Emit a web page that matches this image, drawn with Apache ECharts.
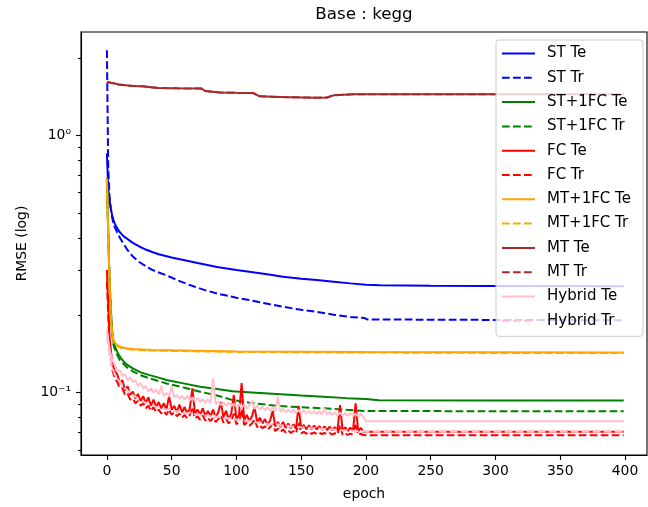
<!DOCTYPE html>
<html><head><meta charset="utf-8">
<script src="https://cdn.jsdelivr.net/npm/echarts@6/dist/echarts.min.js"></script>
<style>html,body{margin:0;padding:0;background:#fff}#c{width:648px;height:507px}</style>
</head><body><div id="c"></div>
<script>
// ---------- data ----------
const title = 'Base : kegg';
const xLabel = 'epoch';
const yLabel = 'RMSE (log)';
const xTicks = [0, 50, 100, 150, 200, 250, 300, 350, 400];
const yMajorTicks = [0.1, 1];
const yMinorTicks = [0.06, 0.07, 0.08, 0.09, 0.2, 0.3, 0.4, 0.5, 0.6, 0.7, 0.8, 0.9, 2];

const seriesNames = ['ST Te','ST Tr','ST+1FC Te','ST+1FC Tr','FC Te','FC Tr','MT+1FC Te','MT+1FC Tr','MT Te','MT Tr','Hybrid Te','Hybrid Tr'];

// smooth curves: [epoch, value]
const stTe = [[0,0.851],[1,0.62],[2,0.56],[3,0.52],[4,0.49],[5,0.47],[6,0.455],[8,0.435],[10,0.42],[13,0.405],[16,0.395],[20,0.382],[25,0.37],[30,0.36],[35,0.352],[40,0.345],[50,0.335],[60,0.327],[70,0.319],[85,0.308],[100,0.3],[110,0.295],[125,0.288],[136,0.282],[150,0.277],[162,0.274],[175,0.27],[188,0.266],[200,0.2625],[211,0.2615],[250,0.2605],[300,0.26],[350,0.2598],[399,0.2595]];
const stTr = [[0,2.14],[1,0.75],[2,0.58],[3,0.52],[4,0.48],[5,0.455],[6,0.44],[8,0.42],[10,0.4],[13,0.378],[16,0.358],[20,0.338],[25,0.322],[30,0.31],[35,0.3],[40,0.293],[46,0.286],[55,0.273],[64,0.262],[75,0.251],[85,0.243],[100,0.234],[110,0.229],[125,0.221],[136,0.2157],[150,0.21],[162,0.206],[175,0.201],[188,0.197],[199,0.195],[201,0.1927],[250,0.1922],[300,0.1918],[350,0.1915],[399,0.1914]];
const st1fcTe = [[0,0.68],[1,0.42],[2,0.28],[3,0.21],[4,0.175],[5,0.158],[6,0.152],[8,0.144],[10,0.138],[13,0.132],[16,0.128],[20,0.1243],[26,0.12],[33,0.1171],[40,0.1145],[46,0.112],[60,0.1085],[72,0.1055],[85,0.1033],[97,0.1013],[115,0.1],[131,0.0989],[150,0.0976],[167,0.0965],[185,0.0953],[200,0.0945],[210,0.0935],[300,0.0933],[399,0.0932]];
const st1fcTr = [[0,0.68],[1,0.42],[2,0.28],[3,0.21],[4,0.172],[5,0.154],[6,0.148],[8,0.14],[10,0.134],[15,0.126],[20,0.121],[26,0.117],[33,0.1137],[40,0.111],[46,0.1087],[60,0.1045],[72,0.1009],[85,0.0975],[96,0.094],[110,0.0915],[131,0.089],[150,0.0878],[167,0.087],[185,0.0858],[200,0.0849],[300,0.0848],[399,0.0847]];
const mt1fcTe = [[0,0.68],[1,0.42],[2,0.27],[3,0.2],[4,0.172],[5,0.162],[6,0.157],[8,0.153],[10,0.151],[15,0.149],[20,0.148],[35,0.1465],[70,0.1455],[100,0.1446],[150,0.1443],[200,0.144],[300,0.1436],[399,0.1434]];
const mt1fcTr = [[0,0.66],[1,0.41],[2,0.265],[3,0.198],[4,0.17],[5,0.16],[6,0.155],[8,0.152],[10,0.15],[15,0.148],[20,0.147],[35,0.1458],[70,0.1448],[100,0.1441],[150,0.1437],[200,0.1433],[300,0.1428],[399,0.1426]];
const mtTe = [[0,1.61],[3,1.6],[7,1.587],[9,1.575],[10,1.563],[20,1.556],[27,1.55],[28,1.532],[40,1.528],[54,1.522],[73,1.52],[76,1.486],[87,1.468],[100,1.462],[113,1.459],[118,1.417],[134,1.408],[150,1.404],[162,1.401],[170,1.403],[175,1.43],[190,1.443],[250,1.443],[399,1.443]];
const mtTr = [[0,1.61],[3,1.6],[7,1.587],[9,1.575],[10,1.563],[20,1.556],[27,1.55],[28,1.532],[40,1.528],[54,1.522],[73,1.52],[76,1.486],[87,1.468],[100,1.462],[113,1.459],[118,1.417],[134,1.408],[150,1.404],[162,1.401],[170,1.403],[175,1.43],[190,1.443],[250,1.443],[399,1.443]];

// noisy curves: one value every 2 epochs from 0 to 198, then a flat tail
const fcTe = [0.300,0.165,0.132,0.121,0.118,0.109,0.112,0.102,0.106,0.098,
  0.101,0.095,0.099,0.093,0.097,0.091,0.096,0.089,0.094,0.088,
  0.092,0.087,0.091,0.086,0.097,0.086,0.089,0.084,0.090,0.084,
  0.088,0.083,0.087,0.104,0.083,0.086,0.082,0.087,0.081,0.085,
  0.081,0.086,0.080,0.084,0.092,0.080,0.085,0.079,0.083,0.098,
  0.079,0.082,0.109,0.078,0.082,0.0775,0.081,0.088,0.0765,0.080,
  0.0758,0.079,0.075,0.078,0.085,0.074,0.077,0.0735,0.077,0.073,
  0.076,0.0728,0.0755,0.0725,0.089,0.0725,0.075,0.0722,0.0748,0.072,
  0.0745,0.072,0.0742,0.0718,0.074,0.0716,0.0738,0.0714,0.0736,0.0713,
  0.0895,0.0712,0.0734,0.071,0.0732,0.0709,0.091,0.0708,0.073,0.0706];
const fcTeTail = 0.0706;
const fcTr = [0.270,0.150,0.124,0.114,0.110,0.104,0.104,0.098,0.099,0.094,
  0.095,0.091,0.093,0.089,0.091,0.087,0.089,0.085,0.088,0.084,
  0.086,0.083,0.085,0.082,0.086,0.082,0.084,0.081,0.083,0.080,
  0.082,0.0795,0.082,0.088,0.0795,0.081,0.0785,0.0815,0.078,0.080,
  0.0775,0.080,0.077,0.079,0.0815,0.0765,0.079,0.076,0.078,0.083,
  0.0755,0.077,0.086,0.075,0.0765,0.0745,0.076,0.079,0.0735,0.075,
  0.0728,0.074,0.072,0.0735,0.0755,0.071,0.0725,0.0705,0.072,0.070,
  0.0715,0.0698,0.071,0.0696,0.077,0.0695,0.0705,0.0694,0.0704,0.0692,
  0.0702,0.0691,0.070,0.069,0.0698,0.0689,0.0697,0.0688,0.0696,0.0688,
  0.075,0.0687,0.0695,0.0686,0.0694,0.0686,0.076,0.0685,0.0693,0.0685];
const fcTrTail = 0.0684;
const hyTe = [0.175,0.148,0.134,0.129,0.122,0.122,0.116,0.118,0.112,0.115,
  0.110,0.112,0.106,0.109,0.104,0.106,0.101,0.104,0.100,0.103,
  0.0985,0.106,0.097,0.100,0.0965,0.106,0.096,0.098,0.0945,0.0975,
  0.094,0.097,0.0935,0.096,0.093,0.0955,0.092,0.0945,0.0915,0.094,
  0.091,0.1135,0.090,0.0925,0.0895,0.092,0.089,0.0915,0.0885,0.091,
  0.088,0.0905,0.0875,0.090,0.087,0.0895,0.093,0.0865,0.089,0.086,
  0.0885,0.0855,0.088,0.085,0.0875,0.0845,0.097,0.0843,0.0865,0.084,
  0.0862,0.0838,0.086,0.0835,0.0857,0.0832,0.0855,0.083,0.0852,0.0828,
  0.085,0.0825,0.0848,0.0822,0.087,0.082,0.0842,0.0818,0.084,0.0815,
  0.0838,0.0813,0.0835,0.0812,0.0833,0.081,0.0832,0.0808,0.083,0.0807];
const hyTeTail = 0.0775;
const hyTr = [0.165,0.140,0.126,0.118,0.113,0.110,0.107,0.104,0.102,0.100,
  0.098,0.0965,0.095,0.094,0.0925,0.0915,0.0905,0.0895,0.089,0.088,
  0.0875,0.087,0.0865,0.086,0.0865,0.0855,0.085,0.0845,0.0848,0.084,
  0.0835,0.0832,0.0838,0.083,0.0825,0.0828,0.082,0.0823,0.0815,0.0818,
  0.081,0.0825,0.0805,0.0808,0.080,0.0803,0.0795,0.0798,0.079,0.0795,
  0.0785,0.0788,0.078,0.0783,0.0775,0.0778,0.077,0.0773,0.0765,0.0768,
  0.076,0.0762,0.0755,0.0758,0.075,0.0752,0.0755,0.0745,0.0748,0.0742,
  0.0744,0.0738,0.074,0.0735,0.0738,0.0732,0.0734,0.073,0.0732,0.0727,
  0.0729,0.0725,0.0727,0.0722,0.0724,0.072,0.0722,0.0718,0.072,0.0716,
  0.0718,0.0714,0.0716,0.0712,0.0714,0.071,0.0712,0.0709,0.0711,0.0708];
const hyTrTail = 0.0706;
const tailEpochs = [200, 399];

// ---------- build ----------
function noisy(vals, tail) {
  const out = vals.map((v, i) => [i * 2, v]);
  tailEpochs.forEach(e => out.push([e, tail]));
  return out;
}
const seriesData = [stTe, stTr, st1fcTe, st1fcTr, noisy(fcTe, fcTeTail), noisy(fcTr, fcTrTail),
  mt1fcTe, mt1fcTr, mtTe, mtTr, noisy(hyTe, hyTeTail), noisy(hyTr, hyTrTail)];
const colors = ['#0000ff','#0000ff','#008000','#008000','#ff0000','#ff0000','#ffa500','#ffa500','#a52a2a','#a52a2a','#ffc0cb','#ffc0cb'];
const dash = [7.7, 3.3];
const FONT = 'DejaVu Sans';

const series = seriesNames.map((n, i) => ({
  name: n, type: 'line', data: seriesData[i], symbol: 'none', showSymbol: false,
  xAxisIndex: 0, yAxisIndex: 0,
  animation: false,
  lineStyle: { color: colors[i], width: 2, type: (i % 2 === 1) ? dash : 'solid', cap: 'butt' },
  itemStyle: { color: colors[i] },
  z: 2 + i * 0.01
}));

const supMap = {'-':'\u207b','0':'\u2070','1':'\u00b9','2':'\u00b2','3':'\u00b3'};
function logLabel(v) {
  const p = Math.round(Math.log10(v));
  return '10' + String(p).split('').map(c => supMap[c]).join('');
}

const Y_MIN = 0.0573, Y_MAX = 2.52;
const G = { left: 81, right: 1, top: 32, bottom: 52, containLabel: false };
// tick helper axes live in log10 space so their ticks line up with the log axis
const lg = v => Math.log10(v);
function tickHelperY(gridIndex, ticks, len) {
  return {
    gridIndex, type: 'value', min: lg(Y_MIN), max: lg(Y_MAX), position: 'left',
    axisLine: { show: false, onZero: false },
    axisTick: { show: true, length: len, customValues: ticks.map(lg), lineStyle: { color: '#000', width: 1.1 } },
    axisLabel: { show: false }, splitLine: { show: false }
  };
}

const chart = echarts.init(document.getElementById('c'), null, { renderer: 'canvas' });
chart.setOption({
  animation: false,
  backgroundColor: '#ffffff',
  textStyle: { fontFamily: FONT },
  title: {
    text: title, left: 364, top: 6, textAlign: 'center', padding: 0,
    textStyle: { fontFamily: FONT, fontSize: 16.7, fontWeight: 'normal', color: '#000' }
  },
  grid: [
    Object.assign({ show: true, borderColor: '#000', borderWidth: 1.1, backgroundColor: 'transparent' }, G),
    Object.assign({ show: false }, G),
    Object.assign({ show: false }, G)
  ],
  xAxis: [{
    gridIndex: 0, type: 'value', min: -20, max: 417, position: 'bottom',
    name: xLabel, nameLocation: 'middle', nameGap: 32,
    nameTextStyle: { fontFamily: FONT, fontSize: 13.9, color: '#000' },
    axisLine: { show: true, onZero: false, lineStyle: { color: '#000', width: 1.1 } },
    axisTick: { show: true, length: 5, customValues: xTicks, lineStyle: { color: '#000', width: 1.1 } },
    axisLabel: { show: true, customValues: xTicks, margin: 9, fontFamily: FONT, fontSize: 13.9, color: '#000' },
    splitLine: { show: false }
  },
  { gridIndex: 1, type: 'value', min: -20, max: 417, show: false },
  { gridIndex: 2, type: 'value', min: -20, max: 417, show: false }],
  yAxis: [{
    gridIndex: 0, type: 'log', logBase: 10, min: Y_MIN, max: Y_MAX, position: 'left',
    name: yLabel, nameLocation: 'middle', nameGap: 50, nameRotate: 90,
    nameTextStyle: { fontFamily: FONT, fontSize: 13.9, color: '#000' },
    axisLine: { show: true, onZero: false, lineStyle: { color: '#000', width: 1.1 } },
    axisTick: { show: false },
    axisLabel: { show: true, customValues: yMajorTicks, margin: 10, fontFamily: FONT, fontSize: 13.9, color: '#000',
      formatter: v => logLabel(v) },
    splitLine: { show: false }, minorTick: { show: false }
  },
  tickHelperY(1, yMajorTicks, 5),
  tickHelperY(2, yMinorTicks, 3)],
  legend: {
    orient: 'vertical', left: 496, top: 40,
    data: seriesNames,
    itemWidth: 33, itemHeight: 14, itemGap: 9.3,
    padding: [6, 12, 8, 5],
    backgroundColor: 'rgba(255,255,255,0.8)',
    borderColor: '#cccccc', borderWidth: 1, borderRadius: 3,
    itemStyle: { opacity: 0 },
    textStyle: { fontFamily: FONT, fontSize: 15, color: '#000', padding: [0, 0, 0, 7] },
    selectedMode: false
  },
  series: series
});
</script></body></html>
